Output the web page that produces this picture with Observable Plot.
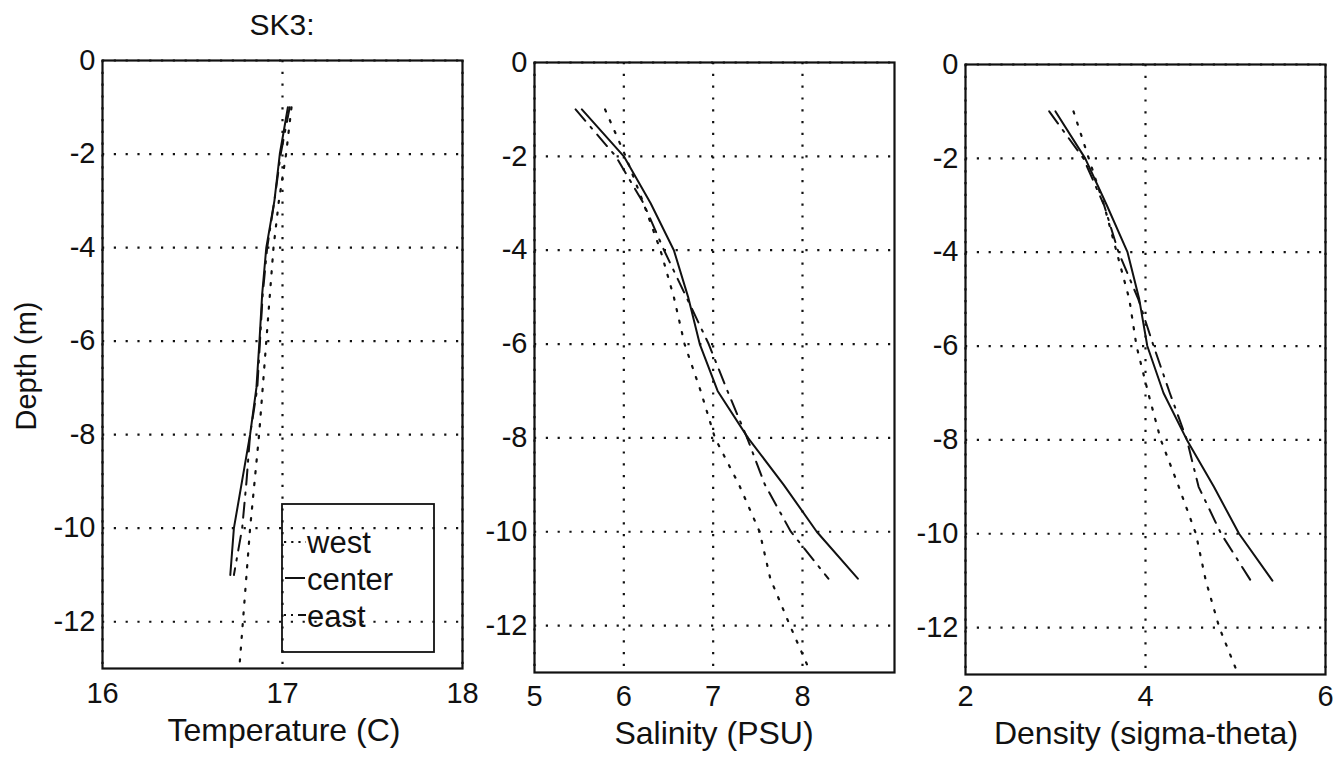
<!DOCTYPE html>
<html>
<head>
<meta charset="utf-8">
<script src="https://cdn.jsdelivr.net/npm/d3@7"></script>
<script src="https://cdn.jsdelivr.net/npm/@observablehq/plot@0.6"></script>
<style>
  html, body { margin: 0; padding: 0; background: #fff; }
  #wrap { position: relative; width: 1344px; height: 757px; overflow: hidden; background: #fff; }
  #wrap > svg, #wrap > figure { position: absolute; top: 0; margin: 0; }
  .ov { position: absolute; left: 0; top: 0; pointer-events: none; }
</style>
</head>
<body>
<div id="wrap"></div>
<script>
// ---- data ----
const depthShort = [-1, -2, -3, -4, -5, -6, -7, -8, -9, -10, -11];
const depthLong  = [-1, -2, -3, -4, -5, -6, -7, -8, -9, -10, -11, -12, -13];

const tempWest   = [17.05, 17.02, 16.98, 16.95, 16.93, 16.91, 16.89, 16.87, 16.845, 16.82, 16.80, 16.78, 16.76];
const tempCenter = [17.03, 16.985, 16.955, 16.91, 16.887, 16.872, 16.855, 16.82, 16.775, 16.73, 16.71];
const tempEast   = [17.04, 16.99, 16.955, 16.915, 16.89, 16.875, 16.86, 16.82, 16.80, 16.776, 16.73];

const salWest    = [5.79, 6.02, 6.22, 6.41, 6.56, 6.68, 6.86, 7.02, 7.29, 7.52, 7.64, 7.86, 8.09];
const salCenter  = [5.53, 6.0, 6.30, 6.56, 6.72, 6.85, 7.05, 7.39, 7.79, 8.16, 8.62];
const salEast    = [5.46, 5.91, 6.22, 6.45, 6.70, 6.95, 7.16, 7.38, 7.58, 7.87, 8.29];

const denWest    = [3.20, 3.37, 3.54, 3.68, 3.82, 3.90, 4.03, 4.17, 4.37, 4.56, 4.67, 4.82, 5.03];
const denCenter  = [3.0, 3.33, 3.57, 3.80, 3.93, 4.02, 4.20, 4.46, 4.76, 5.04, 5.41];
const denEast    = [2.93, 3.31, 3.54, 3.70, 3.92, 4.09, 4.27, 4.46, 4.59, 4.84, 5.17];

const depthTicks = [0, -2, -4, -6, -8, -10, -12];
const tempTicks = [16, 17, 18];
const salTicks = [5, 6, 7, 8];
const denTicks = [2, 4, 6];

const seriesNames = ["west", "center", "east"];
const titleText = "SK3:";
const yLabel = "Depth (m)";
const xLabels = ["Temperature (C)", "Salinity (PSU)", "Density (sigma-theta)"];

// ---- helpers ----
const INK = "#111";
const FONT = "'Liberation Sans', Arial, Helvetica, sans-serif";
const toRows = (vals, depths) => vals.map((v, i) => ({v, d: depths[i]}));

const styles = {
  west:   {stroke: INK, strokeWidth: 2.2, strokeDasharray: "2.2,9.6"},
  center: {stroke: INK, strokeWidth: 2},
  east:   {stroke: INK, strokeWidth: 2, strokeDasharray: "15,8,2.2,8"}
};

function panel(cfg) {
  const gridStyle = {stroke: INK, strokeOpacity: 1, strokeWidth: 2.2, strokeDasharray: "2.2,9.6"};
  const lines = [
    ["west", cfg.west, depthLong],
    ["center", cfg.center, depthShort],
    ["east", cfg.east, depthShort]
  ].map(([name, vals, deps]) => Plot.line(toRows(vals, deps), {x: "v", y: "d", clip: true, ...styles[name]}));
  const p = Plot.plot({
    width: cfg.svgWidth,
    height: 757,
    marginLeft: cfg.x0 - cfg.svgLeft,
    marginRight: cfg.svgLeft + cfg.svgWidth - cfg.x1,
    marginTop: cfg.y0,
    marginBottom: 757 - cfg.y1,
    style: {background: "transparent", fontSize: "29px", fontFamily: FONT, color: INK, overflow: "visible"},
    x: {domain: cfg.xDomain},
    y: {domain: [-13, 0]},
    marks: [
      Plot.gridX(cfg.ticks, gridStyle),
      Plot.gridY(depthTicks, gridStyle),
      ...lines,
      Plot.frame({stroke: INK, strokeWidth: 2.2}),
      Plot.axisX(cfg.ticks, {tickSize: 0, tickPadding: cfg.xPad, label: null, tickFormat: d => String(d), fill: INK, fontSize: 29}),
      Plot.axisY(depthTicks, {tickSize: 0, tickPadding: 7, label: null, tickFormat: d => String(d), fill: INK, fontSize: 29})
    ]
  });
  p.style.left = cfg.svgLeft + "px";
  p.style.position = "absolute";
  p.style.top = "0px";
  p.style.maxWidth = "none";
  return p;
}

const wrap = document.getElementById("wrap");
wrap.appendChild(panel({svgLeft: 0, svgWidth: 480, x0: 102, x1: 462, y0: 60, y1: 668,
  xDomain: [16, 18], ticks: tempTicks, west: tempWest, center: tempCenter, east: tempEast, xPad: 14}));
wrap.appendChild(panel({svgLeft: 470, svgWidth: 450, x0: 534, x1: 894, y0: 62, y1: 672,
  xDomain: [5, 9.03], ticks: salTicks, west: salWest, center: salCenter, east: salEast, xPad: 13}));
wrap.appendChild(panel({svgLeft: 900, svgWidth: 444, x0: 965, x1: 1325, y0: 64, y1: 674,
  xDomain: [2, 6], ticks: denTicks, west: denWest, center: denCenter, east: denEast, xPad: 11}));

// ---- overlay: titles, axis labels, legend ----
const ov = d3.select(wrap).append("svg").attr("class", "ov")
  .attr("width", 1344).attr("height", 757)
  .style("font-family", FONT).style("fill", INK);

ov.append("text").attr("x", 282).attr("y", 35).attr("text-anchor", "middle")
  .style("font-size", "30px").text(titleText);

ov.append("text").attr("transform", "translate(36,366) rotate(-90)").attr("text-anchor", "middle")
  .style("font-size", "29px").text(yLabel);

[[284, 741], [714, 744], [1146, 744]].forEach(([x, y], i) => {
  ov.append("text").attr("x", x).attr("y", y).attr("text-anchor", "middle")
    .style("font-size", "32px").text(xLabels[i]);
});

// legend box (transparent, as in the reference)
const lg = ov.append("g");
lg.append("rect").attr("x", 282).attr("y", 504).attr("width", 152).attr("height", 148)
  .attr("fill", "none").attr("stroke", INK).attr("stroke-width", 1.8);
const legendRows = [
  {name: seriesNames[0], ly: 542, ty: 553, x1: 284, x2: 306},
  {name: seriesNames[1], ly: 578, ty: 590, x1: 285, x2: 305},
  {name: seriesNames[2], ly: 615, ty: 627, x1: 284, x2: 307}
];
legendRows.forEach(r => {
  const s = styles[r.name];
  lg.append("line").attr("x1", r.x1).attr("x2", r.x2).attr("y1", r.ly).attr("y2", r.ly)
    .attr("stroke", s.stroke).attr("stroke-width", s.strokeWidth)
    .attr("stroke-dasharray", r.name === "east" ? "2,5,2,5,8" : (r.name === "west" ? "2.2,5" : null));
  lg.append("text").attr("x", 307).attr("y", r.ty).style("font-size", "31px").text(r.name);
});
</script>
</body>
</html>
